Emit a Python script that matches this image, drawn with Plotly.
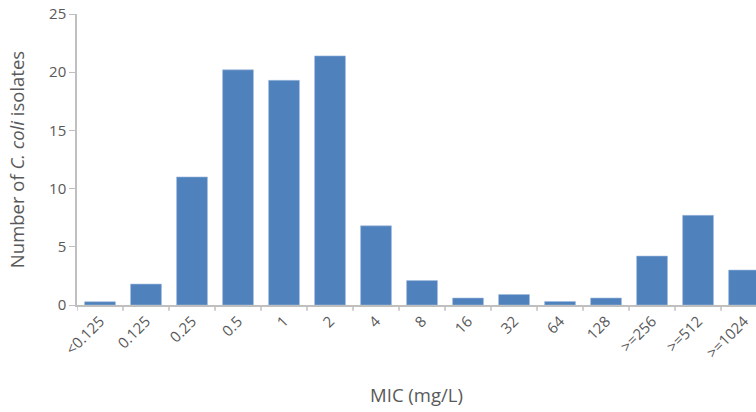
import plotly.graph_objects as go

mic = ["<0.125", "0.125", "0.25", "0.5", "1", "2", "4", "8", "16", "32",
       "64", "128", ">=256", ">=512", ">=1024"]
isolates = [0.28, 1.8, 11.0, 20.2, 19.3, 21.4, 6.8, 2.1, 0.6, 0.9,
            0.3, 0.6, 4.2, 7.7, 3.0]

fig = go.Figure(go.Bar(x=list(range(len(mic))), y=isolates,
                       marker=dict(color="#4F81BD", line=dict(color="#9DB8DB", width=0.6))))

fig.update_layout(
    width=756, height=412,
    margin=dict(l=77, r=0, t=14, b=107),
    plot_bgcolor="white", paper_bgcolor="white",
    font=dict(family="Open Sans", color="#595959", size=15),
    bargap=0.33,
    showlegend=False,
)
fig.update_xaxes(
    tickmode="array", tickvals=list(range(len(mic))), ticktext=mic,
    range=[-0.5, 14.26], tickangle=-45, automargin=False,
    showline=True, linecolor="#BFBFBF", linewidth=1.5,
    ticks="", showgrid=False, zeroline=False,
    title=dict(text="MIC (mg/L)", font=dict(size=18.5), standoff=28),
)
fig.update_yaxes(
    range=[0, 25], dtick=5, automargin=False,
    showline=True, linecolor="#BFBFBF", linewidth=1.5,
    ticks="outside", ticklen=6, tickcolor="#BFBFBF",
    showgrid=False, zeroline=False,
    title=dict(text="Number of <i>C. coli</i> isolates", font=dict(size=18.5), standoff=20),
)
# tick marks between categories
for k in range(len(mic)):
    fig.add_shape(type="line", xref="x", yref="paper", x0=k - 0.5, x1=k - 0.5,
                  y0=0, y1=-0.02, line=dict(color="#BFBFBF", width=1.5))

# drop the default page margin so the figure sits at the window corner
fig.write_html("out.html", config={"displayModeBar": False},
               post_script="document.body.style.margin='0';")
